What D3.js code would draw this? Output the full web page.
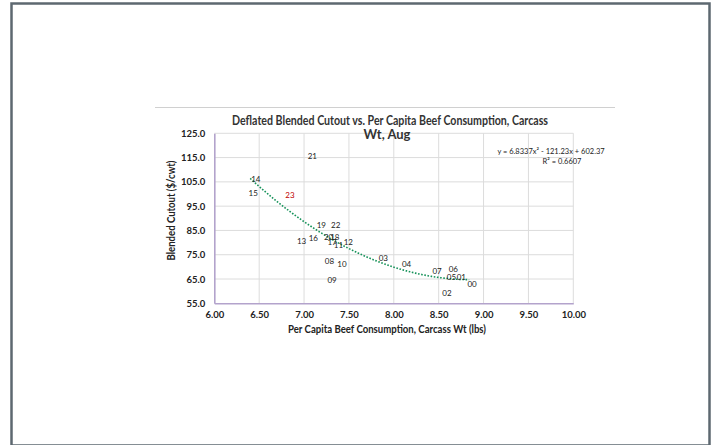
<!DOCTYPE html>
<html>
<head>
<meta charset="utf-8">
<script src="https://cdn.jsdelivr.net/npm/d3@7"></script>
<style>
  body { margin:0; background:#fff; }
  svg { display:block; font-family: Lato, "Liberation Sans", sans-serif; }
</style>
</head>
<body>
<div id="chart"></div>
<script>
var svgW = 713,
    svgH = 445;

// year labels and their (consumption, cutout) values
var years  = ['00','01','02','03','04','05','06','07','08','09','10','11','12',
              '13','14','15','16','17','18','19','20','21','22'];
var consum = [8.81,8.69,8.53,7.82,8.08,8.58,8.60,8.42,7.22,7.25,7.36,7.32,7.43,
              6.91,6.40,6.37,7.04,7.25,7.28,7.13,7.21,7.03,7.29];
var cutout = [62.8,65.7,59.0,73.4,71.0,65.7,69.0,68.2,72.5,64.5,70.9,79.1,80.1,
              80.6,106.2,100.5,81.7,80.1,82.4,87.3,82.4,115.6,87.3];

// current year shown on its own in red
var curYear = ['23'],
    curConsum = [6.78],
    curCutout = [99.6];

// trendline as printed on the chart
var trendCoef = [6.8337, -121.23, 602.37],
    trendRange = [6.40, 8.85],
    trendText = ['y = 6.8337x\u00b2 - 121.23x + 602.37', 'R\u00b2 = 0.6607'];

var xTicks = [6.0,6.5,7.0,7.5,8.0,8.5,9.0,9.5,10.0],
    yTicks = [55,65,75,85,95,105,115,125];

var plot = {l:214.3, r:573.3, t:133.3, b:303.3};

var svg = d3.select('#chart').append('svg')
  .attr('width', svgW)
  .attr('height', svgH);

// page frame
svg.append('rect')
  .attr('x', 11.5).attr('y', 3.5)
  .attr('width', 698).attr('height', 442)
  .attr('fill', 'none')
  .attr('stroke', '#5d6870')
  .attr('stroke-width', 2.5);

// separator line above chart
svg.append('line')
  .attr('x1', 155).attr('x2', 615)
  .attr('y1', 107.5).attr('y2', 107.5)
  .attr('stroke', '#d0d0d0').attr('stroke-width', 1);

var x = d3.scaleLinear().domain([6, 10]).range([plot.l, plot.r]);
var y = d3.scaleLinear().domain([55, 125]).range([plot.b, plot.t]);

// gridlines
var grid = svg.append('g');
grid.selectAll('line.v').data(xTicks.slice(1)).enter()
  .append('line').attr('class','v')
    .attr('x1', function(d){ return x(d); })
    .attr('x2', function(d){ return x(d); })
    .attr('y1', plot.t).attr('y2', plot.b)
    .attr('stroke', '#dcdcdc').attr('stroke-width', 1);
grid.selectAll('line.h').data(yTicks.slice(1)).enter()
  .append('line').attr('class','h')
    .attr('x1', plot.l).attr('x2', plot.r)
    .attr('y1', function(d){ return y(d); })
    .attr('y2', function(d){ return y(d); })
    .attr('stroke', '#dcdcdc').attr('stroke-width', 1);

// axes
var xAxis = svg.append('g')
  .attr('transform', 'translate(0,' + plot.b + ')')
  .call(d3.axisBottom(x).tickValues(xTicks).tickSize(0).tickPadding(8)
    .tickFormat(d3.format('.2f')));
var yAxis = svg.append('g')
  .attr('transform', 'translate(' + plot.l + ',0)')
  .call(d3.axisLeft(y).tickValues(yTicks).tickSize(0).tickPadding(9)
    .tickFormat(d3.format('.1f')));

[xAxis, yAxis].forEach(function(a){
  a.select('.domain').attr('stroke', '#b3a3cc').attr('stroke-width', 1.6);
  a.selectAll('text')
    .attr('font-family', 'Lato, "Liberation Sans", sans-serif')
    .attr('font-size', 9.5)
    .attr('font-weight', 'bold')
    .attr('fill', '#222');
});

// trendline
var trendPts = d3.range(trendRange[0], trendRange[1] + 0.001, 0.02);
var line = d3.line()
  .x(function(d){ return x(d); })
  .y(function(d){ return y(trendCoef[0]*d*d + trendCoef[1]*d + trendCoef[2]); });
svg.append('path')
  .datum(trendPts)
  .attr('d', line)
  .attr('fill', 'none')
  .attr('stroke', '#16925a')
  .attr('stroke-width', 1.6)
  .attr('stroke-dasharray', '1.6,1.6');

// data labels (markers are hidden, only labels show)
var pts = years.map(function(d, i){ return {l:d, x:consum[i], y:cutout[i], c:'#222'}; })
  .concat(curYear.map(function(d, i){ return {l:d, x:curConsum[i], y:curCutout[i], c:'#c00000'}; }));

svg.append('g').selectAll('text')
  .data(pts).enter()
  .append('text')
    .attr('x', function(d){ return x(d.x) + 1; })
    .attr('y', function(d){ return y(d.y); })
    .attr('dy', '0.35em')
    .attr('font-size', 8)
    .attr('fill', function(d){ return d.c; })
    .text(function(d){ return d.l; });

// trend equation
svg.append('g').selectAll('text')
  .data(trendText).enter()
  .append('text')
    .attr('x', function(d, i){ return i === 0 ? 551 : 562; })
    .attr('y', function(d, i){ return 151 + i*10; })
    .attr('dy', '0.35em')
    .attr('text-anchor', 'middle')
    .attr('font-size', 7.5)
    .attr('fill', '#222')
    .text(function(d){ return d; });

// titles
svg.append('text')
  .attr('x', 390).attr('y', 120).attr('dy', '0.35em')
  .attr('text-anchor', 'middle')
  .attr('font-size', 13).attr('font-weight', 'bold').attr('fill', '#333')
  .attr('textLength', 316).attr('lengthAdjust', 'spacingAndGlyphs')
  .text('Deflated Blended Cutout vs. Per Capita Beef Consumption, Carcass');
svg.append('text')
  .attr('x', 387).attr('y', 134).attr('dy', '0.35em')
  .attr('text-anchor', 'middle')
  .attr('font-size', 13).attr('font-weight', 'bold').attr('fill', '#333')
  .text('Wt, Aug');

svg.append('text')
  .attr('x', 387).attr('y', 329).attr('dy', '0.35em')
  .attr('text-anchor', 'middle')
  .attr('font-size', 11).attr('font-weight', 'bold').attr('fill', '#222')
  .attr('textLength', 198).attr('lengthAdjust', 'spacingAndGlyphs')
  .text('Per Capita Beef Consumption, Carcass Wt (lbs)');

svg.append('text')
  .attr('transform', 'translate(171,210.5) rotate(-90)')
  .attr('dy', '0.35em')
  .attr('text-anchor', 'middle')
  .attr('font-size', 11).attr('font-weight', 'bold').attr('fill', '#222')
  .attr('textLength', 100).attr('lengthAdjust', 'spacingAndGlyphs')
  .text('Blended Cutout ($/cwt)');
</script>
</body>
</html>
